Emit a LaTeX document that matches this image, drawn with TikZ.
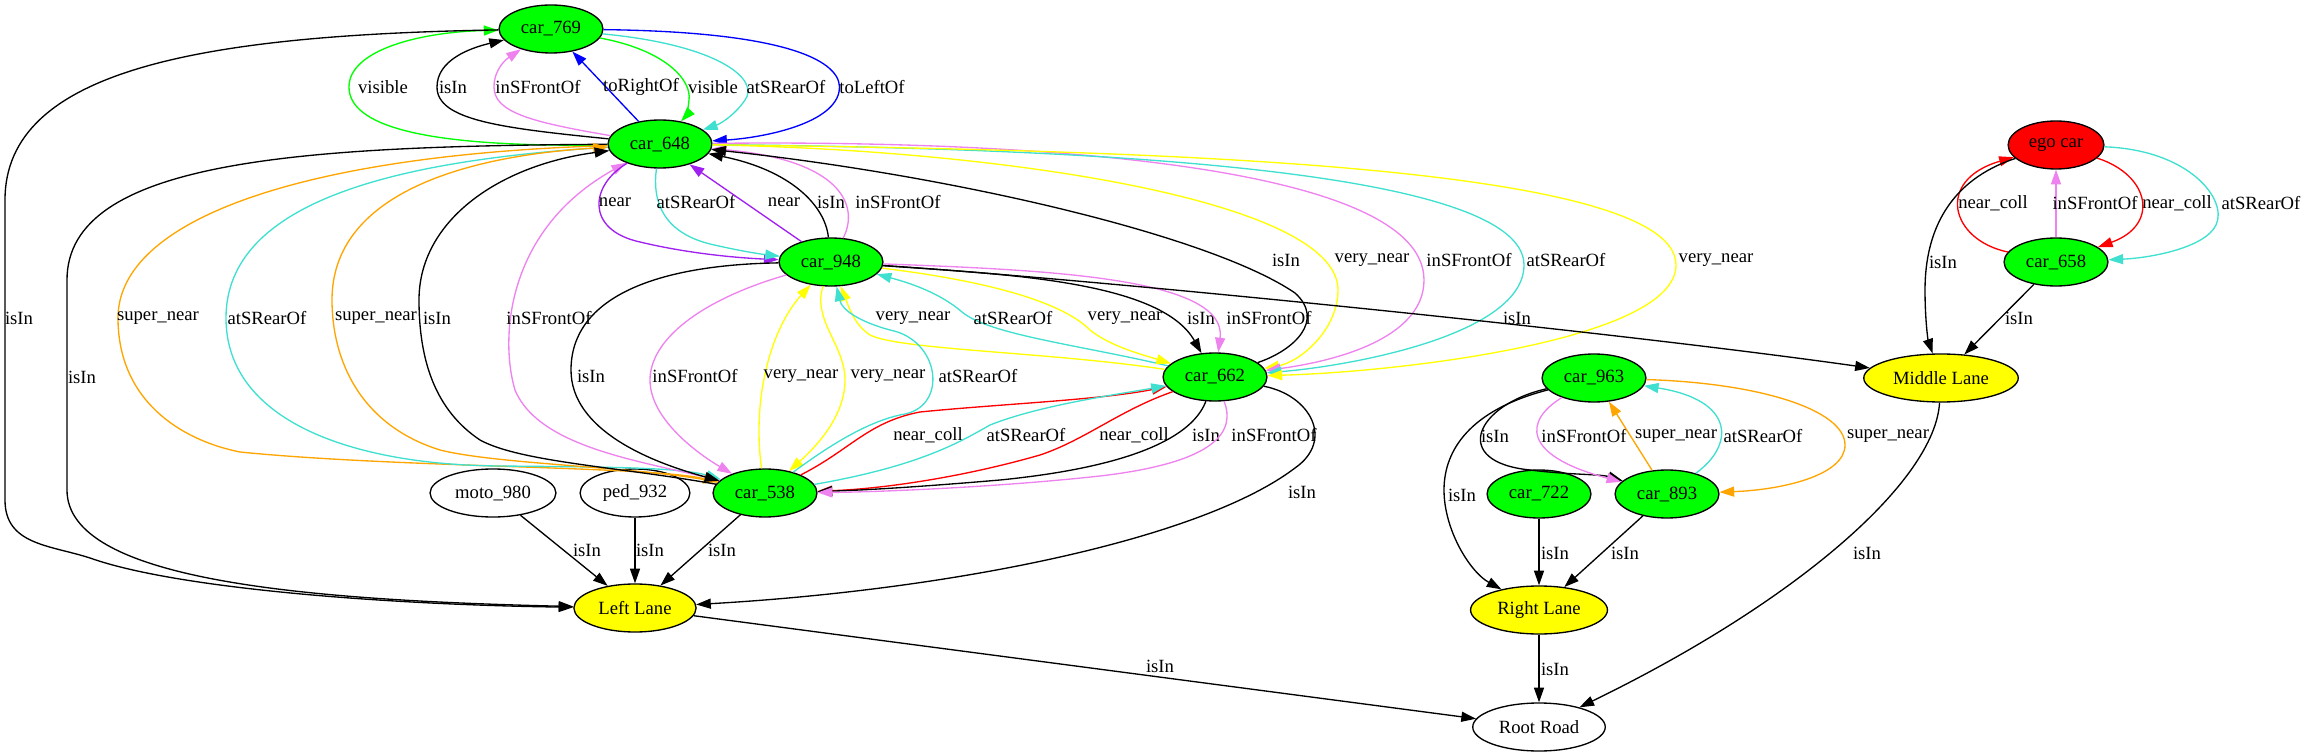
\documentclass[tikz,border=0pt]{standalone}
\usepackage{fontspec}
\setmainfont{Liberation Serif}
\usetikzlibrary{shapes.geometric, arrows.meta}

\definecolor{gvgreen}{HTML}{00FF00}
\definecolor{gvred}{HTML}{FF0000}
\definecolor{gvyellow}{HTML}{FFFF00}
\definecolor{gvblue}{HTML}{0000FF}
\definecolor{gvviolet}{HTML}{EE82EE}
\definecolor{gvturq}{HTML}{40E0D0}
\definecolor{gvorange}{HTML}{FFA500}
\definecolor{gvpurple}{HTML}{A020F0}

\begin{document}
\begin{tikzpicture}[
    x=0.75pt, y=-0.75pt,
    vertex/.style={ellipse, draw, line width=1pt, minimum height=36pt, inner xsep=5pt, inner ysep=0pt, font=\fontsize{14}{16}\selectfont},
    car/.style={vertex, fill=gvgreen},
    lane/.style={vertex, fill=gvyellow},
    egobox/.style={vertex, fill=gvred},
    directed/.style={->, >={Triangle[length=11pt, width=7.5pt]}, line width=1pt},
    lbl/.style={text=black, inner sep=0pt, font=\fontsize{14}{16}\selectfont}
]
    \useasboundingbox (0,0) rectangle (2305,755);

    % Nodes
    \node[car] (c769) at (551,29) {car\_769};
    \node[car] (c648) at (660,144) {car\_648};
    \node[car] (c948) at (831,262) {car\_948};
    \node[car] (c662) at (1215,377) {car\_662};
    \node[car] (c538) at (765,493) {car\_538};
    \node[vertex] (moto) at (493,493) {moto\_980};
    \node[vertex] (ped) at (635,493) {ped\_932};
    \node[lane] (LL) at (635,608) {Left Lane};
    \node[vertex] (RR) at (1539,727) {Root Road};
    \node[egobox] (ego) at (2056,145) {ego car};
    \node[car] (c658) at (2056,262) {car\_658};
    \node[lane] (ML) at (1941,378) {Middle Lane};
    \node[car] (c963) at (1594,378) {car\_963};
    \node[car] (c722) at (1539,494) {car\_722};
    \node[car] (c893) at (1667,494) {car\_893};
    \node[lane] (RL) at (1539,610) {Right Lane};

    % car_648 and car_769
    \draw[directed, gvgreen] (c648) .. controls (420,148) and (349,125) .. (349,87) .. controls (349,50) and (420,32) .. (c769) node[lbl] at (383,87) {visible};
    \draw[directed] (c648) .. controls (500,128) and (437,120) .. (437,87) .. controls (437,60) and (470,48) .. (c769) node[lbl] at (453,87) {isIn};
    \draw[directed, gvviolet] (c648) .. controls (530,122) and (494,112) .. (494,87) .. controls (494,70) and (505,60) .. (c769) node[lbl] at (538,87) {inSFrontOf};
    \draw[directed, gvblue] (c648) -- (c769) node[lbl] at (641,87) {toRightOf};
    \draw[directed, gvgreen] (c769) .. controls (665,50) and (692,80) .. (689,100) .. controls (688,110) and (686,116) .. (c648) node[lbl] at (713,87) {visible};
    \draw[directed, gvturq] (c769) .. controls (720,45) and (760,80) .. (745,100) .. controls (735,115) and (720,124) .. (c648) node[lbl] at (786,87) {atSRearOf};
    \draw[directed, gvblue] (c769) .. controls (800,32) and (845,65) .. (839,92) .. controls (832,125) and (760,138) .. (c648) node[lbl] at (872,87) {toLeftOf};

    % into Left Lane from the top
    \draw[directed] (c769) .. controls (200,35) and (5,70) .. (5,200) -- (5,500) .. controls (5,545) and (50,545) .. (90,558) .. controls (180,590) and (400,605) .. (LL) node[lbl] at (19,318) {isIn};
    \draw[directed] (c648) .. controls (300,146) and (67,160) .. (67,280) -- (67,490) .. controls (67,580) and (300,600) .. (LL) node[lbl] at (82,377) {isIn};

    % car_648 and car_538
    \draw[directed, gvorange] (c648) .. controls (300,155) and (118,220) .. (118,318) .. controls (118,400) and (180,440) .. (240,452) .. controls (400,468) and (650,466) .. (c538) node[lbl] at (158,318) {super\_near};
    \draw[directed, gvturq] (c648) .. controls (400,160) and (226,200) .. (226,318) .. controls (226,420) and (350,465) .. (500,466) .. controls (600,467) and (680,467) .. (c538) node[lbl] at (267,318) {atSRearOf};
    \draw[directed, gvorange] (c538) .. controls (650,467) and (500,465) .. (440,450) .. controls (360,425) and (332,360) .. (332,300) .. controls (332,200) and (450,157) .. (c648) node[lbl] at (376,318) {super\_near};
    \draw[directed] (c538) .. controls (620,467) and (520,462) .. (480,440) .. controls (435,410) and (419,360) .. (419,300) .. controls (419,220) and (500,165) .. (c648) node[lbl] at (437,318) {isIn};
    \draw[directed, gvviolet] (c538) .. controls (650,462) and (540,450) .. (515,390) .. controls (500,340) and (505,230) .. (c648) node[lbl] at (549,318) {inSFrontOf};

    % car_648 and car_948
    \draw[directed, gvpurple] (c648) .. controls (590,185) and (585,230) .. (640,242) .. controls (690,254) and (740,258) .. (c948) node[lbl] at (615,202) {near};
    \draw[directed, gvturq] (c648) .. controls (652,200) and (662,232) .. (710,244) .. controls (740,251) and (760,254) .. (c948) node[lbl] at (696,202) {atSRearOf};
    \draw[directed, gvpurple] (c948) -- (c648) node[lbl] at (784,202) {near};
    \draw[directed] (c948) .. controls (825,205) and (790,170) .. (c648) node[lbl] at (831,202) {isIn};
    \draw[directed, gvviolet] (c948) .. controls (860,205) and (840,160) .. (c648) node[lbl] at (898,202) {inSFrontOf};

    % car_648 and car_662
    \draw[directed] (c662) .. controls (1295,350) and (1325,320) .. (1295,293) .. controls (1210,235) and (950,175) .. (c648) node[lbl] at (1286,260) {isIn};
    \draw[directed, gvyellow] (c648) .. controls (1000,150) and (1338,200) .. (1338,290) .. controls (1338,330) and (1300,362) .. (c662) node[lbl] at (1372,260) {very\_near};
    \draw[directed, gvviolet] (c648) .. controls (1000,140) and (1424,160) .. (1424,280) .. controls (1424,340) and (1330,362) .. (c662) node[lbl] at (1469,260) {inSFrontOf};
    \draw[directed, gvturq] (c648) .. controls (1050,148) and (1524,165) .. (1524,265) .. controls (1524,335) and (1350,366) .. (c662) node[lbl] at (1566,260) {atSRearOf};
    \draw[directed, gvyellow] (c648) .. controls (1100,150) and (1676,160) .. (1676,265) .. controls (1676,340) and (1400,372) .. (c662) node[lbl] at (1716,260) {very\_near};

    % car_948 and car_662
    \draw[directed, gvyellow] (c662) .. controls (1050,352) and (900,350) .. (870,335) .. controls (855,325) and (850,310) .. (c948) node[lbl] at (913,318) {very\_near};
    \draw[directed, gvturq] (c662) .. controls (1080,345) and (990,335) .. (962,312) .. controls (940,293) and (910,283) .. (c948) node[lbl] at (1013,318) {atSRearOf};
    \draw[directed, gvyellow] (c948) .. controls (980,280) and (1060,300) .. (1090,330) .. controls (1110,346) and (1140,354) .. (c662) node[lbl] at (1125,318) {very\_near};
    \draw[directed] (c948) .. controls (1000,274) and (1160,280) .. (c662) node[lbl] at (1201,318) {isIn};
    \draw[directed, gvviolet] (c948) .. controls (1050,270) and (1228,278) .. (c662) node[lbl] at (1269,318) {inSFrontOf};
    \draw[directed] (c948) .. controls (1100,280) and (1600,330) .. (ML) node[lbl] at (1517,318) {isIn};

    % car_948 and car_538
    \draw[directed] (c948) .. controls (650,265) and (571,300) .. (571,370) .. controls (571,430) and (650,462) .. (c538) node[lbl] at (591,376) {isIn};
    \draw[directed, gvviolet] (c948) .. controls (700,300) and (650,340) .. (650,380) .. controls (650,420) and (700,455) .. (c538) node[lbl] at (695,376) {inSFrontOf};
    \draw[directed, gvyellow] (c538) .. controls (752,400) and (770,330) .. (c948) node[lbl] at (801,376) {very\_near};
    \draw[directed, gvyellow] (c948) .. controls (812,320) and (845,345) .. (845,380) .. controls (845,420) and (810,452) .. (c538) node[lbl] at (888,376) {very\_near};
    \draw[directed, gvturq] (c538) .. controls (830,445) and (870,420) .. (905,414) .. controls (948,405) and (940,340) .. (890,330) .. controls (860,322) and (842,310) .. (c948) node[lbl] at (978,376) {atSRearOf};

    % car_538 and car_662
    \draw[directed, gvred] (c538) .. controls (850,450) and (868,422) .. (920,412) .. controls (1000,404) and (1100,400) .. (c662) node[lbl] at (928,435) {near\_coll};
    \draw[directed, gvturq] (c538) .. controls (920,466) and (960,442) .. (990,425) .. controls (1040,405) and (1120,394) .. (c662) node[lbl] at (1026,435) {atSRearOf};
    \draw[directed, gvred] (c662) .. controls (1120,410) and (1085,440) .. (1040,455) .. controls (960,478) and (880,489) .. (c538) node[lbl] at (1134,435) {near\_coll};
    \draw[directed] (c662) .. controls (1195,430) and (1150,465) .. (1000,480) .. controls (930,486) and (870,490) .. (c538) node[lbl] at (1206,435) {isIn};
    \draw[directed, gvviolet] (c662) .. controls (1235,430) and (1220,462) .. (1100,476) .. controls (1000,487) and (880,492) .. (c538) node[lbl] at (1274,435) {inSFrontOf};
    \draw[directed] (c662) .. controls (1310,395) and (1335,440) .. (1295,468) .. controls (1200,540) and (950,590) .. (LL) node[lbl] at (1302,492) {isIn};

    % Left Lane
    \draw[directed] (moto) -- (LL) node[lbl] at (587,550) {isIn};
    \draw[directed] (ped) -- (LL) node[lbl] at (650,550) {isIn};
    \draw[directed] (c538) -- (LL) node[lbl] at (722,550) {isIn};
    \draw[directed] (LL) -- (RR) node[lbl] at (1160,666) {isIn};

    % ego car and car_658
    \draw[directed, gvred] (c658) .. controls (1950,240) and (1935,180) .. (ego) node[lbl] at (1993,203) {near\_coll};
    \draw[directed, gvviolet] (c658) -- (ego) node[lbl] at (2095,203) {inSFrontOf};
    \draw[directed, gvred] (ego) .. controls (2150,175) and (2160,225) .. (c658) node[lbl] at (2177,203) {near\_coll};
    \draw[directed, gvturq] (ego) .. controls (2190,150) and (2228,200) .. (2216,225) .. controls (2205,248) and (2150,258) .. (c658) node[lbl] at (2261,203) {atSRearOf};
    \draw[directed] (ego) .. controls (1950,180) and (1925,230) .. (1925,290) .. controls (1925,320) and (1928,340) .. (ML) node[lbl] at (1943,262) {isIn};
    \draw[directed] (c658) -- (ML) node[lbl] at (2019,318) {isIn};
    \draw[directed] (ML) .. controls (1935,480) and (1800,600) .. (RR) node[lbl] at (1867,553) {isIn};

    % Right Lane group
    \draw[directed] (c963) .. controls (1470,410) and (1444,450) .. (1444,490) .. controls (1444,530) and (1470,572) .. (RL) node[lbl] at (1462,495) {isIn};
    \draw[directed] (c963) .. controls (1475,405) and (1450,462) .. (1530,470) .. controls (1570,475) and (1600,474) .. (c893) node[lbl] at (1495,436) {isIn};
    \draw[directed, gvviolet] (c963) .. controls (1525,420) and (1520,455) .. (c893) node[lbl] at (1584,436) {inSFrontOf};
    \draw[directed, gvorange] (c893) -- (c963) node[lbl] at (1676,436) {super\_near};
    \draw[directed, gvturq] (c893) .. controls (1735,445) and (1735,400) .. (c963) node[lbl] at (1763,436) {atSRearOf};
    \draw[directed, gvorange] (c963) .. controls (1760,383) and (1845,410) .. (1845,445) .. controls (1845,476) and (1780,490) .. (c893) node[lbl] at (1888,436) {super\_near};
    \draw[directed] (c722) -- (RL) node[lbl] at (1555,553) {isIn};
    \draw[directed] (c893) -- (RL) node[lbl] at (1625,553) {isIn};
    \draw[directed] (RL) -- (RR) node[lbl] at (1555,669) {isIn};
\end{tikzpicture}
\end{document}
